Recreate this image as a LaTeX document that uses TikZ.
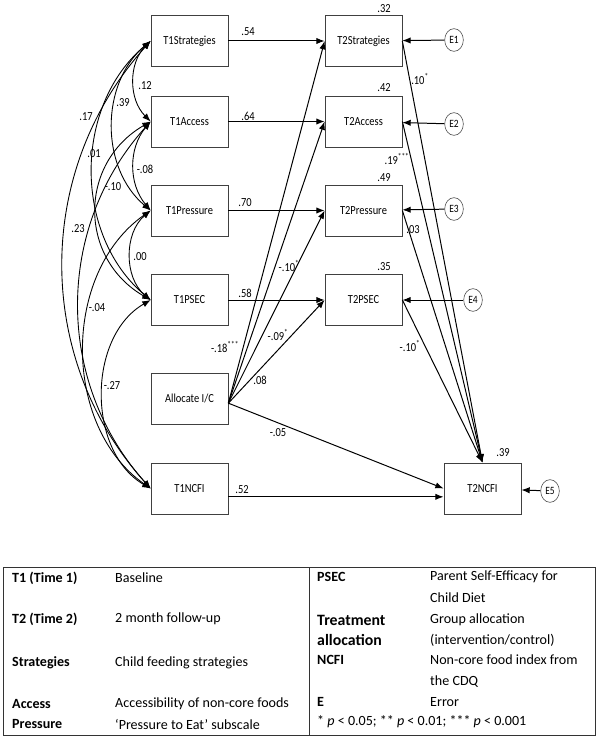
\documentclass[tikz,border=0pt]{standalone}
\usepackage{fontspec}
\setmainfont{Carlito}
\newfontfamily\diagfont[FakeStretch=0.85]{Carlito}
\usetikzlibrary{arrows.meta,shapes.geometric}

\tikzset{
  box/.style={draw=black!75, line width=0.6pt, minimum width=2.31cm, minimum height=1.53cm, inner sep=0pt, font=\diagfont\fontsize{10.5}{12}\selectfont},
  err/.style={draw=black!70, line width=0.5pt, ellipse, minimum width=0.56cm, minimum height=0.68cm, inner sep=0pt, font=\diagfont\fontsize{9.5}{11}\selectfont},
  effect/.style={line width=0.85pt, -{Latex[length=2.5mm,width=1.9mm]}},
  corr/.style={line width=0.75pt, {Latex[length=2.5mm,width=1.9mm]}-{Latex[length=2.5mm,width=1.9mm]}},
  lab/.style={inner sep=0pt, font=\diagfont\fontsize{10.5}{12}\selectfont},
  term/.style={anchor=west, inner sep=0pt, font=\bfseries\fontsize{12}{14}\selectfont},
  bigterm/.style={anchor=west, inner sep=0pt, font=\bfseries\fontsize{13.5}{15}\selectfont},
  desc/.style={anchor=west, inner sep=0pt, font=\fontsize{12}{14}\selectfont},
}

\begin{document}
\begin{tikzpicture}[x=0.03cm, y=-0.03cm]
    \useasboundingbox (0,0) rectangle (600,739);

    % Time 1 boxes
    \node[box] (t1s) at (189.5,41) {T1Strategies};
    \node[box] (t1a) at (189.5,121.5) {T1Access};
    \node[box] (t1p) at (189.5,210.5) {T1Pressure};
    \node[box] (t1e) at (189.5,300) {T1PSEC};
    \node[box] (alloc) at (189.5,398.5) {Allocate I/C};
    \node[box] (t1n) at (189.5,488.5) {T1NCFI};

    % Time 2 boxes
    \node[box] (t2s) at (363.5,41) {T2Strategies};
    \node[box] (t2a) at (363.5,121.5) {T2Access};
    \node[box] (t2p) at (363.5,210.5) {T2Pressure};
    \node[box] (t2e) at (363.5,300) {T2PSEC};
    \node[box] (t2n) at (482.5,488.5) {T2NCFI};

    % Errors
    \node[err] (e1) at (454,40) {E1};
    \node[err] (e2) at (454,124) {E2};
    \node[err] (e3) at (454,209) {E3};
    \node[err] (e4) at (473,300) {E4};
    \node[err] (e5) at (550,491) {E5};

    % Stability paths
    \draw[effect] (t1s) -- (t2s);
    \draw[effect] (t1a) -- (t2a);
    \draw[effect] (t1p) -- (t2p);
    \draw[effect] (t1e) -- (t2e);
    \draw[effect] ([yshift=-0.25cm]t1n.east) -- ([yshift=-0.25cm]t2n.west);

    % Allocation paths
    \coordinate (fan) at ([yshift=-0.14cm]alloc.east);
    \draw[effect] (fan) -- (t2s.west);
    \draw[effect] (fan) -- (t2a.west);
    \draw[effect] (fan) -- (t2p.west);
    \draw[effect] (fan) -- (t2e.west);
    \draw[effect] (fan) -- (t2n.west);

    % Time 2 to NCFI
    \draw[effect] (t2s.east) -- (t2n.north);
    \draw[effect] (t2a.east) -- (t2n.north);
    \draw[effect] (t2p.east) -- (t2n.north);
    \draw[effect] (t2e.east) -- (t2n.north);

    % Error arrows
    \draw[effect] (e1) -- (t2s);
    \draw[effect] (e2) -- (t2a);
    \draw[effect] (e3) -- (t2p);
    \draw[effect] (e4) -- (t2e);
    \draw[effect] (e5) -- (t2n);

    % Correlations
    \draw[corr] (t1s.west) to[bend right=45] (t1a.west);
    \draw[corr] (t1a.west) to[bend right=40] (t1p.west);
    \draw[corr] (t1p.west) to[bend right=50] (t1e.west);
    \draw[corr] (t1e.west) to[bend right=60] (t1n.west);
    \draw[corr] (t1s.west) to[bend right=50] (t1p.west);
    \draw[corr] (t1s.west) to[bend right=50] (t1e.west);
    \draw[corr] (t1s.west) to[bend right=42] (t1n.west);
    \draw[corr] (t1a.west) to[bend right=60, looseness=1.2] (t1e.west);
    \draw[corr] (t1a.west) to[bend right=42] (t1n.west);
    \draw[corr] (t1p.west) to[bend right=55] (t1n.west);

    % Correlation labels
    \node[lab] (c12) at (145,86) {.12};
    \node[lab] (c39) at (123,103) {.39};
    \node[lab] (c17) at (86,117) {.17};
    \node[lab] (c01) at (94,154) {.01};
    \node[lab] (c10) at (113,187) {-.10};
    \node[lab] (c08) at (145,169) {-.08};
    \node[lab] (c23) at (78,229) {.23};
    \node[lab] (c00) at (140,257) {.00};
    \node[lab] (c04) at (97,308) {-.04};
    \node[lab] (c27) at (112,386) {-.27};

    % Path labels
    \node[lab] (p54) at (248,32) {.54};
    \node[lab] (p64) at (248,116) {.64};
    \node[lab] (p70) at (245,203) {.70};
    \node[lab] (p58) at (245,293) {.58};
    \node[lab] (p52) at (242,490) {.52};
    \node[lab] (a18) at (225,347) {-.18\textsuperscript{***}};
    \node[lab] (a10) at (289,266) {-.10\textsuperscript{*}};
    \node[lab] (a09) at (278,335) {-.09\textsuperscript{*}};
    \node[lab] (a08) at (260,380) {.08};
    \node[lab] (a05) at (278,433) {-.05};
    \node[lab] (b10) at (420,79) {.10\textsuperscript{*}};
    \node[lab] (b19) at (397,159) {.19\textsuperscript{***}};
    \node[lab] (b03) at (413,230) {.03};
    \node[lab] (b10n) at (410,346) {-.10\textsuperscript{*}};

    % Explained variance
    \node[lab] (r32) at (384,9) {.32};
    \node[lab] (r42) at (384,88) {.42};
    \node[lab] (r49) at (384,178) {.49};
    \node[lab] (r35) at (384,267) {.35};
    \node[lab] (r39) at (503,453) {.39};

    % Legend table
    \draw[black!80, line width=0.6pt] (3,567) rectangle (595,735);
    \draw[black!80, line width=0.6pt] (309,567) -- (309,735);

    \node[term] (k1) at (12,578) {T1 (Time 1)};
    \node[desc] (d1) at (115,578) {Baseline};
    \node[term] (k2) at (12,619) {T2 (Time 2)};
    \node[desc] (d2) at (115,619) {2 month follow-up};
    \node[term] (k3) at (12,663) {Strategies};
    \node[desc] (d3) at (115,663) {Child feeding strategies};
    \node[term] (k4) at (12,704) {Access};
    \node[desc] (d4) at (115,704) {Accessibility of non-core foods};
    \node[term] (k5) at (12,724) {Pressure};
    \node[desc] (d5) at (115,724) {‘Pressure to Eat’ subscale};

    \node[term] (k6) at (317,577) {PSEC};
    \node[desc] (d6) at (430,577) {Parent Self-Efficacy for};
    \node[desc] (d6b) at (430,598) {Child Diet};
    \node[bigterm] (k7) at (317,620) {Treatment};
    \node[bigterm] (k7b) at (317,640) {allocation};
    \node[desc] (d7) at (430,620) {Group allocation};
    \node[desc] (d7b) at (430,640) {(intervention/control)};
    \node[term] (k8) at (317,660) {NCFI};
    \node[desc] (d8) at (430,660) {Non-core food index from};
    \node[desc] (d8b) at (430,682) {the CDQ};
    \node[term] (k9) at (317,702) {E};
    \node[desc] (d9) at (430,702) {Error};
    \node[desc] (sig) at (317,722) {* \textit{p} < 0.05; ** \textit{p} < 0.01; *** \textit{p} < 0.001};
\end{tikzpicture}
\end{document}
